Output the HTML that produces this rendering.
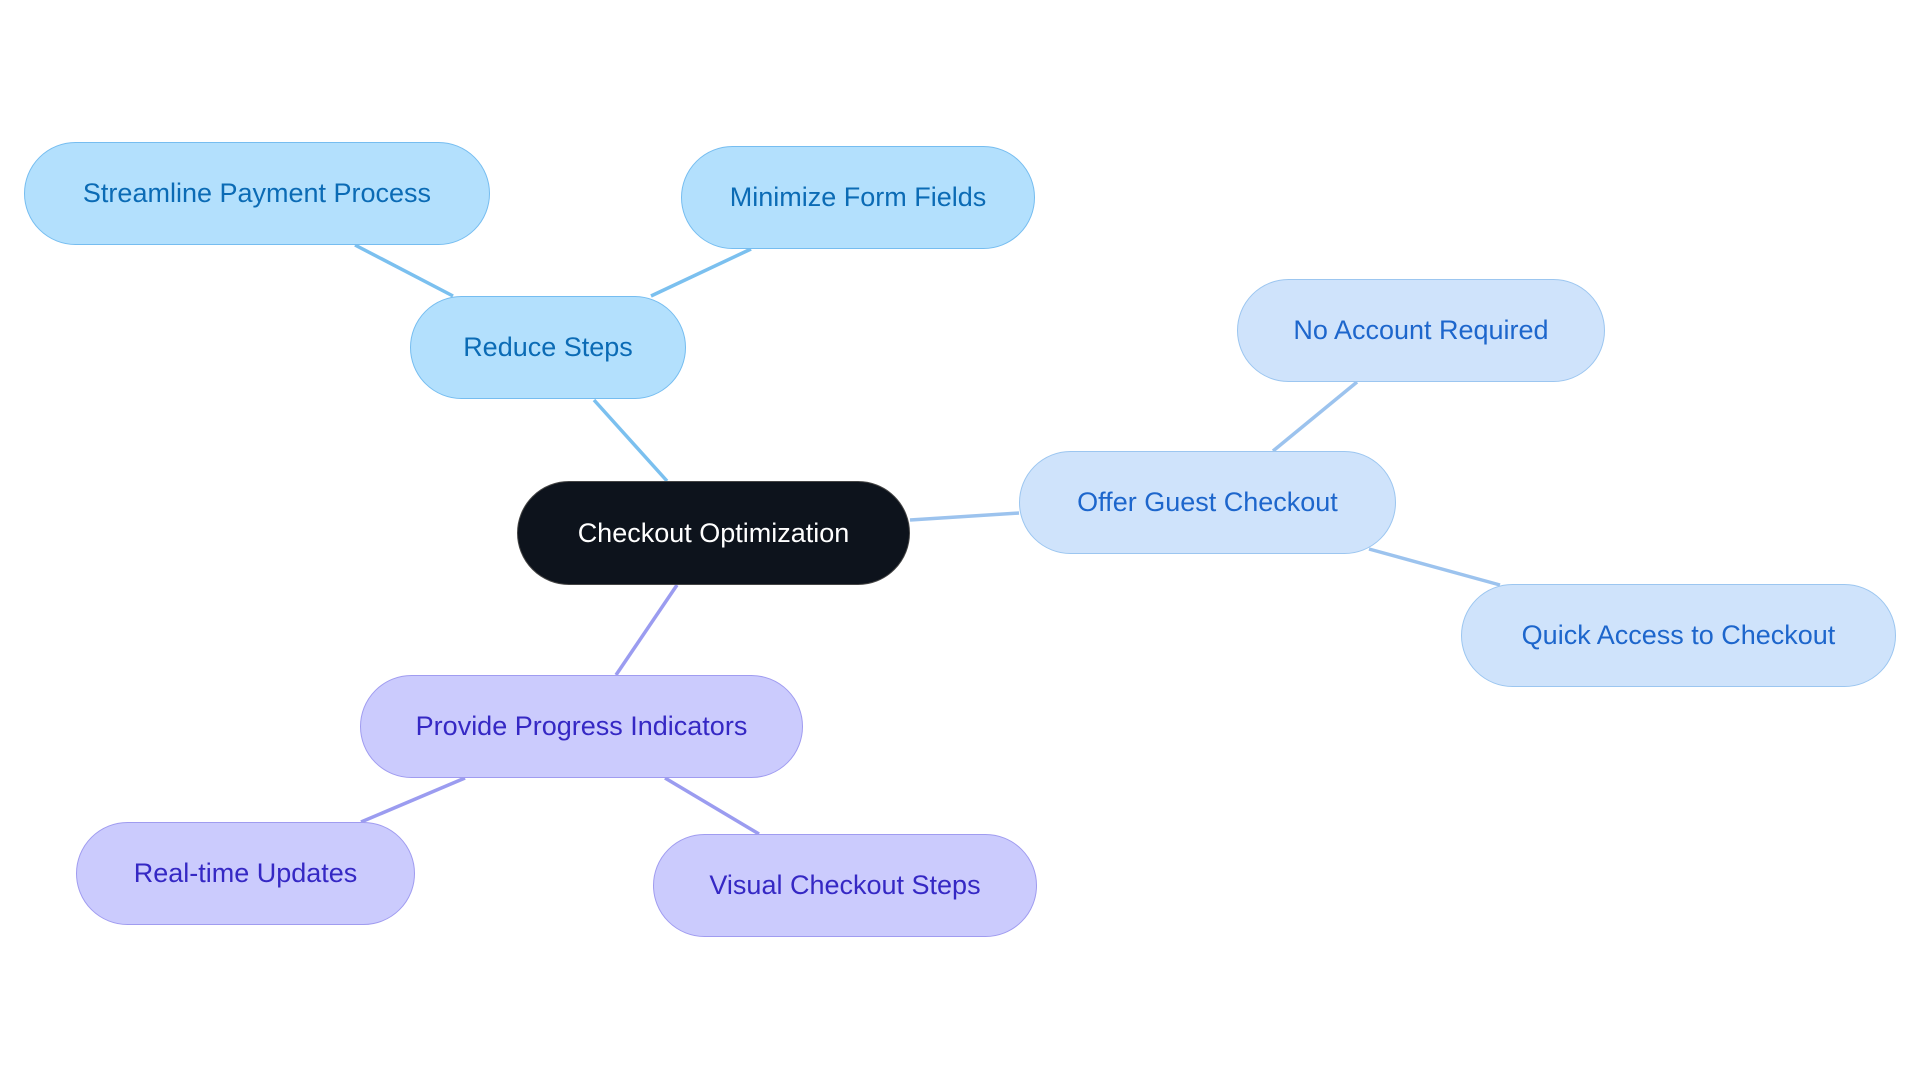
<!DOCTYPE html>
<html><head><meta charset="utf-8"><style>
body{margin:0;width:1920px;height:1083px;background:#fff;position:relative;overflow:hidden;font-family:"Liberation Sans",sans-serif}
.n{position:absolute;box-sizing:border-box;display:flex;align-items:center;justify-content:center;border-radius:52px;font-size:27px;border:1.5px solid}
.b{background:#b3e0fd;border-color:#76bdf0;color:#0b6bb5}
.g{background:#cfe3fb;border-color:#9cc6f0;color:#1d66cc}
.p{background:#cbcbfd;border-color:#a09cf0;color:#3528c4}
.c{background:#0d131c;border-color:#444;color:#fff}
svg{position:absolute;left:0;top:0}
</style></head><body>
<svg width="1920" height="1083">
<g stroke-width="3.5" fill="none">
<line x1="594" y1="400" x2="667" y2="481" stroke="#7bc0ef"/>
<line x1="355" y1="245" x2="453" y2="296" stroke="#7bc0ef"/>
<line x1="751" y1="249" x2="651" y2="296" stroke="#7bc0ef"/>
<line x1="910" y1="520" x2="1019" y2="513" stroke="#9cc3ee"/>
<line x1="1273" y1="451" x2="1357" y2="382" stroke="#9cc3ee"/>
<line x1="1369" y1="549" x2="1500" y2="585" stroke="#9cc3ee"/>
<line x1="677" y1="585" x2="616" y2="675" stroke="#9b9cf0"/>
<line x1="465" y1="778" x2="361" y2="822" stroke="#9b9cf0"/>
<line x1="665" y1="778" x2="759" y2="834" stroke="#9b9cf0"/>
</g></svg>
<div class="n c" style="left:517px;top:481px;width:393px;height:104px">Checkout Optimization</div>
<div class="n b" style="left:24px;top:142px;width:466px;height:103px">Streamline Payment Process</div>
<div class="n b" style="left:681px;top:146px;width:354px;height:103px">Minimize Form Fields</div>
<div class="n b" style="left:410px;top:296px;width:276px;height:103px">Reduce Steps</div>
<div class="n g" style="left:1237px;top:279px;width:368px;height:103px">No Account Required</div>
<div class="n g" style="left:1019px;top:451px;width:377px;height:103px">Offer Guest Checkout</div>
<div class="n g" style="left:1461px;top:584px;width:435px;height:103px">Quick Access to Checkout</div>
<div class="n p" style="left:360px;top:675px;width:443px;height:103px">Provide Progress Indicators</div>
<div class="n p" style="left:76px;top:822px;width:339px;height:103px">Real-time Updates</div>
<div class="n p" style="left:653px;top:834px;width:384px;height:103px">Visual Checkout Steps</div>
</body></html>
